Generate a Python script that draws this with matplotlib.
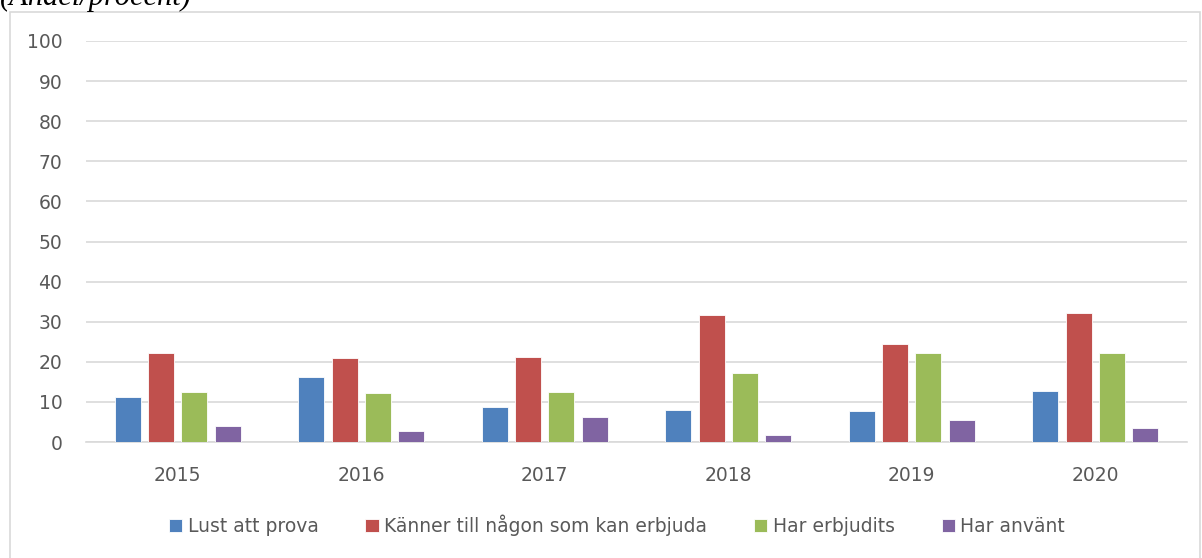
import numpy as np
import matplotlib.pyplot as plt
from matplotlib.patches import Rectangle

# ---------- data ---------- #
years = ['2015', '2016', '2017', '2018', '2019', '2020']
lust = [11.1, 16.2, 8.8, 8.1, 7.8, 12.8]
kanner = [22.2, 21.0, 21.3, 31.7, 24.5, 32.2]
erbjudits = [12.4, 12.3, 12.4, 17.1, 22.2, 22.1]
anvant = [4.1, 2.8, 6.2, 1.8, 5.6, 3.5]

series = [
    ('Lust att prova', lust, '#4F81BD'),
    ('Känner till någon som kan erbjuda', kanner, '#C0504D'),
    ('Har erbjudits', erbjudits, '#9BBB59'),
    ('Har använt', anvant, '#8064A2'),
]

plt.rcParams['font.family'] = ['DejaVu Sans']
txt_col = '#595959'
fs = 13.5

fig = plt.figure(figsize=(12.02, 5.58), dpi=100)
W, H = 1202, 558
# plot area in pixels: x 86..1187, y 41..442
ax = fig.add_axes([86 / W, 1 - 442 / H, (1187 - 86) / W, (442 - 41) / H])

x = np.arange(len(years))
pitch = 0.1815
width = 0.142
for i, (name, vals, col) in enumerate(series):
    ax.bar(x + (i - 1.5) * pitch, vals, width, color=col, label=name,
           edgecolor='white', linewidth=0.6, zorder=3)

ax.set_xlim(-0.5, len(years) - 0.5)
ax.set_ylim(0, 100)
ax.set_yticks(range(0, 101, 10))
ax.set_xticks(x)
ax.set_xticklabels(years)
ax.tick_params(axis='both', length=0, labelsize=fs, colors=txt_col)
ax.tick_params(axis='x', pad=17)
ax.tick_params(axis='y', pad=17)
ax.grid(axis='y', color='#D9D9D9', linewidth=1.2, zorder=0)
for s in ['top', 'right', 'left']:
    ax.spines[s].set_visible(False)
ax.spines['bottom'].set_color('#D9D9D9')
ax.spines['bottom'].set_linewidth(1.2)

fig.legend(*ax.get_legend_handles_labels(), loc='center',
           bbox_to_anchor=(617 / W, 1 - 525 / H), ncol=4, frameon=False,
           fontsize=fs, labelcolor=txt_col, handlelength=0.7, handleheight=0.7,
           handletextpad=0.3, columnspacing=2.5)

# chart frame
fig.patches.append(Rectangle((10 / W, -0.01), 1190 / W, 1 - 12 / H + 0.01,
                             transform=fig.transFigure, fill=False,
                             edgecolor='#D9D9D9', linewidth=1.2))

fig.text(0.0, 1 - 5 / H, '(Andel/procent)', family='Liberation Serif',
         style='italic', fontsize=22, va='baseline', ha='left', color='black')

plt.savefig('out.png', dpi=100)
